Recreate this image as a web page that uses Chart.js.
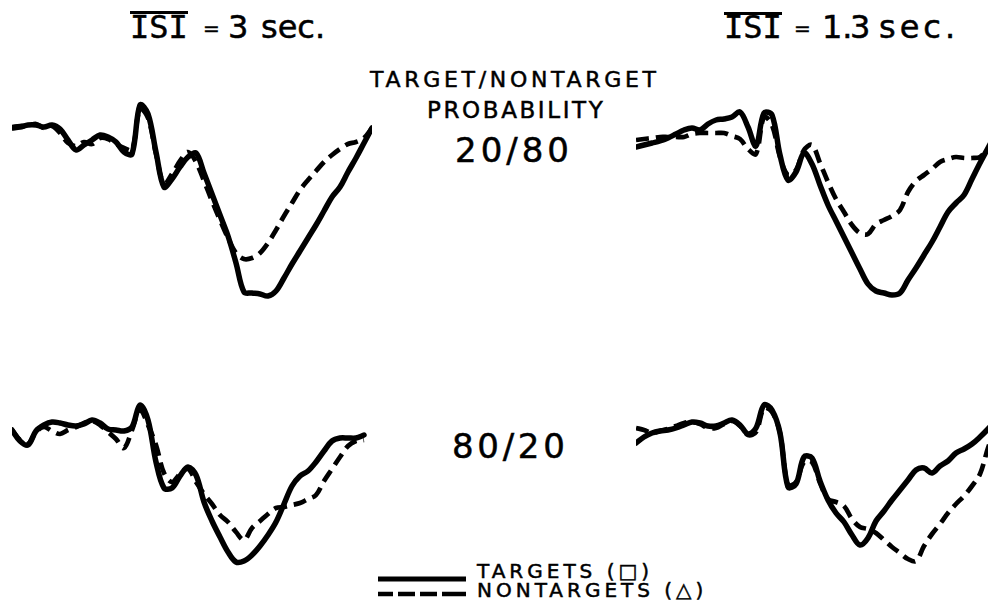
<!DOCTYPE html>
<html>
<head>
<meta charset="utf-8">
<title>Averaged waveforms: targets vs nontargets</title>
<script src="https://cdn.jsdelivr.net/npm/chart.js@4.4.1/dist/chart.umd.min.js"></script>
<style>
  html, body { margin: 0; padding: 0; background: #fff; }
  body {
    position: relative;
    width: 988px;
    height: 614px;
    overflow: hidden;
    color: #000;
    font-family: "DejaVu Sans", sans-serif;
  }
  canvas { position: absolute; }
  .t {
    position: absolute;
    white-space: nowrap;
    line-height: 1;
    -webkit-text-stroke: 0.5px #000;
  }
  .mono { font-family: "DejaVu Sans Mono", monospace; }
  .bar { position: absolute; height: 3px; background: #000; }
  .key { position: absolute; left: 376px; top: 570px; }
</style>
</head>
<body>
  <!-- column headings -->
  <div class="bar" style="left:130px;top:11px;width:58px"></div>
  <div class="t mono" style="left:130px;top:11px;font-size:32px">ISI</div>
  <div class="t" style="left:203px;top:18px;font-size:20px">=</div>
  <div class="t" style="left:228px;top:11px;font-size:32px">3</div>
  <div class="t" style="left:261px;top:11px;font-size:32px">sec.</div>

  <div class="bar" style="left:724px;top:12px;width:58px"></div>
  <div class="t mono" style="left:724px;top:11px;font-size:32px">ISI</div>
  <div class="t" style="left:794px;top:18px;font-size:20px">=</div>
  <div class="t" style="left:822px;top:11px;font-size:32px">1.</div>
  <div class="t" style="left:850px;top:11px;font-size:32px">3</div>
  <div class="t" style="left:879px;top:11px;font-size:32px;letter-spacing:4px">sec.</div>

  <!-- centre labels -->
  <div class="t" style="left:370px;top:69px;font-size:22px;letter-spacing:3.7px">TARGET/NONTARGET</div>
  <div class="t" style="left:427px;top:99px;font-size:23px;letter-spacing:2.6px">PROBABILITY</div>
  <div class="t" style="left:455px;top:133px;font-size:34px;letter-spacing:4px">20/80</div>
  <div class="t" style="left:452px;top:429px;font-size:34px;letter-spacing:3.7px">80/20</div>

  <!-- key -->
  <svg class="key" width="92" height="32">
    <line x1="2" y1="9" x2="90" y2="9" stroke="#000" stroke-width="5"/>
    <line x1="2" y1="24" x2="90" y2="24" stroke="#000" stroke-width="4.5" stroke-dasharray="15 5 17 5 17 5 24"/>
  </svg>
  <div class="t" style="left:477px;top:561px;font-size:20px;letter-spacing:4px">TARGETS (□)</div>
  <div class="t" style="left:477px;top:580px;font-size:20px;letter-spacing:4px">NONTARGETS (△)</div>

  <canvas id="panel-tl"></canvas>
  <canvas id="panel-tr"></canvas>
  <canvas id="panel-bl"></canvas>
  <canvas id="panel-br"></canvas>

<script>
/* global Chart */

// sample times (ms after the start of each trace)
const timeMs = [
  0, 16, 32, 48, 64, 80, 96, 112, 128, 144,
  160, 176, 192, 208, 224, 240, 256, 272, 288, 304,
  320, 336, 352, 368, 384, 400, 416, 432, 448, 464,
  480, 496, 512, 528, 544, 560, 576, 592, 608, 624,
  640, 656, 672, 688, 704, 720
];

// amplitudes (uV); up is positive as drawn

// ISI = 3 sec, 20/80
const tlTargets = [
  0.0, 0.1, 0.3, 0.3, 0.1, 0.3, -0.1, -1.2, -2.2, -1.7,
  -1.2, -0.7, -0.9, -1.4, -2.4, -2.6, 2.3, 1.4, -2.4, -5.9,
  -5.1, -3.9, -2.9, -2.5, -4.5, -6.6, -8.7, -10.8, -13.5, -16.4,
  -16.5, -16.6, -16.8, -16.3, -15.0, -13.6, -12.3, -11.0, -9.7, -8.3,
  -6.9, -5.9, -4.4, -3.0, -1.5, 0.0
];
const tlNontargets = [
  0.1, 0.2, 0.2, 0.4, 0.0, 0.2, -0.5, -1.5, -1.8, -1.4,
  -1.6, -1.0, -1.1, -1.6, -2.0, -2.2, 1.9, 1.0, -2.6, -5.6,
  -4.6, -3.3, -2.4, -3.4, -5.3, -7.3, -9.2, -11.0, -12.5, -13.1,
  -13.0, -12.5, -11.5, -10.2, -8.8, -7.5, -6.2, -5.2, -4.3, -3.4,
  -2.7, -2.1, -1.6, -1.4, -1.0, 0.0
];

// ISI = 1.3 sec, 20/80
const trTargets = [
  -0.2, 0.0, 0.2, 0.4, 0.7, 1.1, 1.5, 1.7, 1.5, 2.1,
  2.5, 2.6, 2.8, 3.3, 1.8, -0.1, 3.2, 3.0, -1.0, -3.5,
  -2.7, -0.8, -1.9, -4.0, -6.0, -7.6, -9.2, -10.8, -12.4, -13.9,
  -14.6, -14.8, -15.0, -14.8, -13.5, -12.3, -11.0, -9.7, -8.2, -6.7,
  -5.8, -5.0, -3.4, -1.8, -0.3, 1.2
];
const trNontargets = [
  0.5, 0.6, 0.7, 0.8, 0.8, 0.8, 0.8, 1.1, 1.2, 1.2,
  1.2, 1.2, 0.9, 0.6, -0.4, -0.9, 2.8, 2.0, -1.2, -3.0,
  -2.5, -0.5, 0.0, -1.8, -3.7, -5.4, -6.7, -8.0, -8.8, -8.9,
  -7.9, -7.5, -7.1, -6.5, -4.7, -3.6, -3.0, -2.4, -1.7, -1.4,
  -1.2, -1.3, -1.3, -1.2, -0.3, 0.5
];

// ISI = 3 sec, 80/20
const blTargets = [
  0.0, -1.1, -1.5, -0.1, 0.5, 0.8, 0.7, 0.5, 0.4, 0.6,
  1.0, 0.7, 0.1, 0.0, -0.1, 0.3, 2.5, 1.0, -3.2, -5.8,
  -5.8, -4.6, -3.7, -4.5, -7.2, -9.1, -10.7, -12.2, -13.2, -13.1,
  -12.5, -11.6, -10.5, -9.2, -7.4, -5.6, -4.6, -4.1, -3.2, -2.1,
  -1.1, -0.8, -0.8, -0.8, -0.5, null
];
const blNontargets = [
  0.0, -1.0, -1.4, -0.2, 0.3, -0.1, -0.4, 0.0, 0.3, 0.7,
  0.9, 0.5, -0.2, -0.9, -1.8, 0.0, 2.0, 0.5, -1.5, -4.3,
  -5.2, -4.4, -3.9, -5.2, -6.4, -7.4, -8.5, -9.2, -10.2, -11.0,
  -9.8, -9.1, -8.4, -7.8, -7.7, -7.5, -7.3, -6.9, -6.5, -5.1,
  -3.9, -2.7, -1.6, -1.1, -1.0, null
];

// ISI = 1.3 sec, 80/20
const brTargets = [
  -1.5, -0.9, -0.5, -0.3, -0.2, 0.0, 0.3, 0.6, 0.5, 0.2,
  0.2, 0.5, 0.8, 0.3, -0.6, 0.0, 2.3, 1.8, -0.5, -5.9,
  -5.6, -2.9, -3.0, -5.3, -7.2, -8.5, -9.4, -10.7, -11.7, -11.0,
  -9.3, -8.3, -7.2, -6.2, -5.2, -4.2, -4.0, -4.5, -3.8, -3.3,
  -2.5, -2.1, -1.6, -0.9, -0.1, 0.8
];
const brNontargets = [
  0.0, -0.2, -0.5, -0.3, -0.1, 0.2, 0.5, 0.6, 0.4, 0.0,
  0.0, 0.4, 0.7, 0.2, -0.7, -0.4, 2.0, 1.6, -0.5, -5.7,
  -5.4, -3.4, -3.4, -5.5, -7.1, -7.4, -7.8, -9.1, -9.9, -10.1,
  -10.5, -11.2, -11.9, -12.5, -13.1, -13.3, -11.8, -10.6, -9.6, -8.5,
  -7.6, -6.8, -5.8, -4.6, -2.0, 0.2
];

// where each panel sits on the page; 10 px per uV, 2 ms per px
const PX_PER_UV = 10;
const panels = [
  { id: "#panel-tl", left: 12, top: 80, width: 360, height: 240, yMax: 4.8, targets: tlTargets, nontargets: tlNontargets },
  { id: "#panel-tr", left: 636, top: 80, width: 360, height: 240, yMax: 6.5, targets: trTargets, nontargets: trNontargets },
  { id: "#panel-bl", left: 12, top: 370, width: 360, height: 220, yMax: 6.0, targets: blTargets, nontargets: blNontargets },
  { id: "#panel-br", left: 636, top: 370, width: 360, height: 220, yMax: 5.8, targets: brTargets, nontargets: brNontargets }
];

function $(sel) {
  return document.querySelector(sel);
}

function toPoints(values) {
  return timeMs.map((t, i) => ({ x: t, y: values[i] }));
}

function buildPanel(p) {
  const canvas = $(p.id);
  canvas.width = p.width;
  canvas.height = p.height;
  canvas.style.left = p.left + "px";
  canvas.style.top = p.top + "px";

  return new Chart(canvas, {
    type: "line",
    data: {
      datasets: [
        {
          label: "Nontargets",
          data: toPoints(p.nontargets),
          borderColor: "#000",
          borderWidth: 4.7,
          borderDash: [13, 7],
          pointRadius: 0,
          tension: 0.35,
          clip: false
        },
        {
          label: "Targets",
          data: toPoints(p.targets),
          borderColor: "#000",
          borderWidth: 5.5,
          borderCapStyle: "round",
          borderJoinStyle: "round",
          pointRadius: 0,
          tension: 0.35,
          clip: false
        }
      ]
    },
    options: {
      responsive: false,
      animation: false,
      events: [],
      layout: { padding: 0 },
      plugins: {
        legend: { display: false },
        tooltip: { enabled: false }
      },
      scales: {
        x: { type: "linear", display: false, min: 0, max: 720 },
        y: { display: false, min: p.yMax - p.height / PX_PER_UV, max: p.yMax }
      }
    }
  });
}

function main() {
  panels.forEach(buildPanel);
}

main();
</script>
</body>
</html>
